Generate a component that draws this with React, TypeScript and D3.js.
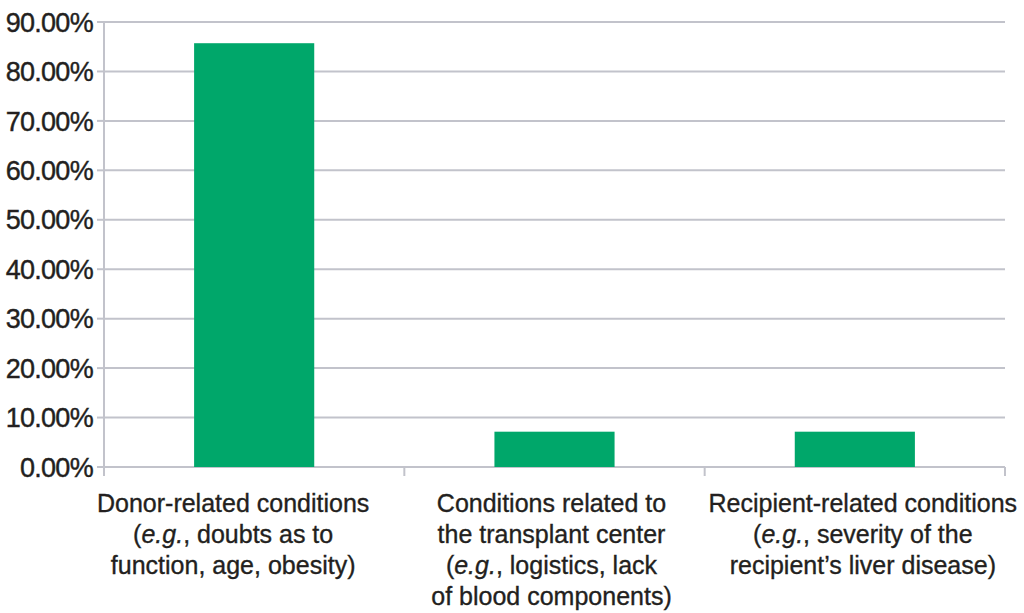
import React, { useEffect } from 'react';
import * as d3 from 'd3';

// Share of each reason (percent)
const categories = ['donor', 'center', 'recipient'];
const values = [85.71, 7.14, 7.14];
const yTicks = [0, 10, 20, 30, 40, 50, 60, 70, 80, 90];

// Label lines: each line is a list of [text, italic] pieces
type Piece = [string, boolean];
const labelLines: Piece[][][] = [
  [
    [['Donor-related conditions', false]],
    [['(', false], ['e.g.', true], [', doubts as to', false]],
    [['function, age, obesity)', false]],
  ],
  [
    [['Conditions related to', false]],
    [['the transplant center', false]],
    [['(', false], ['e.g.', true], [', logistics, lack', false]],
    [['of blood components)', false]],
  ],
  [
    [['Recipient-related conditions', false]],
    [['(', false], ['e.g.', true], [', severity of the', false]],
    [['recipient\u2019s liver disease)', false]],
  ],
];

const W = 1024;
const H = 613;
const margin = { top: 22, right: 19, bottom: 146, left: 104 };
const FONT = '"Liberation Sans", Arial, Helvetica, sans-serif';
const BAR = '#00a76a';
const GRID = '#c2c3cb';
const TEXT = '#231f20';
// label blocks in the original sit a little off their band centres
const labelShift = [-21, -3, 8];

const App: React.FC = () => {
  useEffect(() => {
    document.body.style.margin = '0';
  }, []);

  const x = d3
    .scaleBand<string>()
    .domain(categories)
    .range([margin.left, W - margin.right])
    .paddingInner(0)
    .paddingOuter(0);
  const y = d3
    .scaleLinear()
    .domain([0, 90])
    .range([H - margin.bottom, margin.top]);

  const bw = x.bandwidth() * 0.4;
  const y0 = y(0);

  return (
    <svg width={W} height={H} style={{ display: 'block', background: '#fff' }}>
      {/* gridlines */}
      {yTicks.map((t) => (
        <line
          key={'g' + t}
          x1={margin.left}
          x2={W - margin.right}
          y1={y(t)}
          y2={y(t)}
          stroke={GRID}
          strokeWidth={2}
        />
      ))}
      {/* y axis */}
      <line x1={margin.left} x2={margin.left} y1={y(90)} y2={y0} stroke={GRID} strokeWidth={2} />
      {yTicks.map((t) => (
        <g key={'t' + t}>
          <line x1={margin.left - 7} x2={margin.left} y1={y(t)} y2={y(t)} stroke={GRID} strokeWidth={2} />
          <text
            x={margin.left - 11}
            y={y(t)}
            dy="0.36em"
            textAnchor="end"
            fontFamily={FONT}
            fontSize={27}
            letterSpacing={-0.7}
            fill={TEXT}
            stroke={TEXT}
            strokeWidth={0.4}
          >
            {d3.format('.2f')(t) + '%'}
          </text>
        </g>
      ))}
      {/* x axis ticks at band boundaries */}
      {categories.map((c) => (
        <line
          key={'xt' + c}
          x1={(x(c) as number) + x.bandwidth()}
          x2={(x(c) as number) + x.bandwidth()}
          y1={y0}
          y2={y0 + 9}
          stroke={GRID}
          strokeWidth={2}
        />
      ))}
      <line x1={margin.left} x2={margin.left} y1={y0} y2={y0 + 9} stroke={GRID} strokeWidth={2} />
      {/* bars */}
      {categories.map((c, i) => (
        <rect
          key={'b' + c}
          x={(x(c) as number) + (x.bandwidth() - bw) / 2}
          y={y(values[i])}
          width={bw}
          height={y0 - y(values[i])}
          fill={BAR}
        />
      ))}
      {/* category labels */}
      {categories.map((c, i) => (
        <text
          key={'l' + c}
          textAnchor="middle"
          fontFamily={FONT}
          fontSize={25}
          fill={TEXT}
          stroke={TEXT}
          strokeWidth={0.35}
        >
          {labelLines[i].map((line, j) => (
            <tspan
              key={j}
              x={(x(c) as number) + x.bandwidth() / 2 + labelShift[i]}
              y={y0 + 45 + j * 31}
            >
              {line.map(([s, it], k) => (
                <tspan key={k} fontStyle={it ? 'italic' : 'normal'}>
                  {s}
                </tspan>
              ))}
            </tspan>
          ))}
        </text>
      ))}
    </svg>
  );
};

export default App;
